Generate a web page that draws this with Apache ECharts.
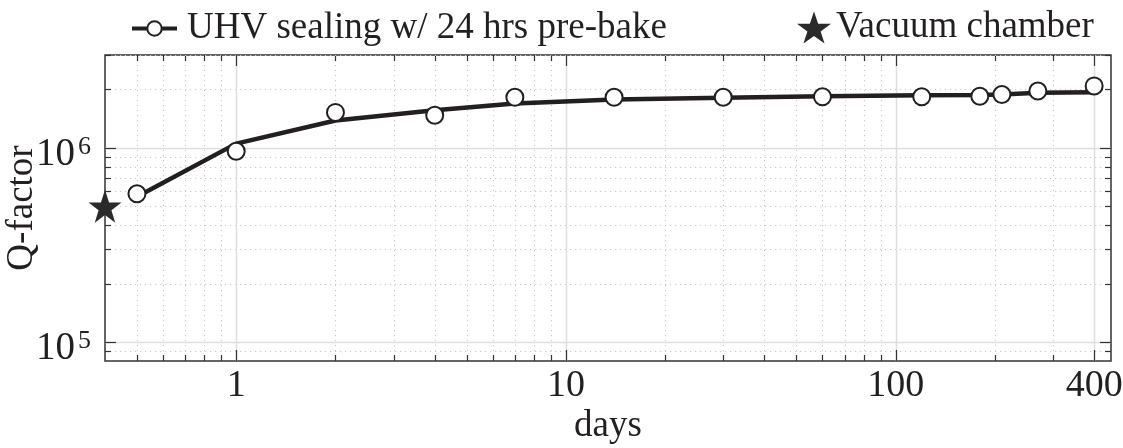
<!DOCTYPE html>
<html>
<head>
<meta charset="utf-8">
<script src="https://cdn.jsdelivr.net/npm/echarts@6/dist/echarts.min.js"></script>
<style>
  html, body { margin: 0; padding: 0; background: #fff; }
  #chart { width: 1123px; height: 448px; }
</style>
</head>
<body>
<div id="chart"></div>
<script>
// Q-factor over time after UHV sealing (log-log)
const days = [0.5, 1, 2, 4, 7, 14, 30, 60, 120, 180, 210, 270, 400];
const qMeasured = [5.8e5, 9.6e5, 1.52e6, 1.47e6, 1.82e6, 1.82e6, 1.82e6, 1.83e6, 1.83e6, 1.84e6, 1.88e6, 1.96e6, 2.08e6];
const qTrend = [5.6e5, 1.05e6, 1.38e6, 1.56e6, 1.69e6, 1.77e6, 1.81e6, 1.84e6, 1.86e6, 1.87e6, 1.88e6, 1.92e6, 1.93e6];
const chamberDay = [0.4];
const chamberQ = [5.0e5];

// tick / grid positions
const xLabelTicks = [1, 10, 100, 400];
const xMajorTicks = [1, 10, 100, 400];
const xMinorTicks = [0.5, 0.6, 0.7, 0.8, 0.9, 2, 3, 4, 5, 6, 7, 8, 9, 20, 30, 40, 50, 60, 70, 80, 90, 200, 300];
const yLabelTicks = [1e5, 1e6];
const yMajorTicks = [1e5, 1e6];
const yMinorTicks = [9e4, 2e5, 3e5, 4e5, 5e5, 6e5, 7e5, 8e5, 9e5, 2e6, 3e6];

const seriesName = 'UHV sealing w/ 24 hrs pre-bake';
const chamberName = 'Vacuum chamber';

const FONT = '"Liberation Serif", "Times New Roman", serif';
const INK = '#231f20';
const STAR = 'path://M50,0 L61.8,35.1 L98.1,35.1 L68.7,56.7 L79.9,91.2 L50,69.8 L20.1,91.2 L31.3,56.7 L1.9,35.1 L38.2,35.1 Z';

function gridAndTicks(params, api) {
  const cs = params.coordSys;
  const left = cs.x, right = cs.x + cs.width, top = cs.y, bottom = cs.y + cs.height;
  const kids = [];
  const majorGrid = { stroke: '#dedede', lineWidth: 1.5 };
  const minorGrid = { stroke: '#c8c8c8', lineWidth: 1, lineDash: [1.2, 3.8] };
  const tickStyle = { stroke: '#333', lineWidth: 1.2 };
  const line = (x1, y1, x2, y2, style) => kids.push({
    type: 'line', shape: { x1, y1, x2, y2 }, style: Object.assign({}, style), silent: true
  });
  const xs = (list, major) => list.forEach(v => {
    const px = Math.round(api.coord([v, 1e6])[0]) + 0.5;
    line(px, top, px, bottom, major ? majorGrid : minorGrid);
    const len = major ? 11 : 6;
    line(px, bottom, px, bottom - len, tickStyle);
    line(px, top, px, top + len, tickStyle);
  });
  const ys = (list, major) => list.forEach(v => {
    const py = Math.round(api.coord([1, v])[1]) + 0.5;
    line(left, py, right, py, major ? majorGrid : minorGrid);
    const len = major ? 11 : 6;
    line(left, py, left + len, py, tickStyle);
    line(right, py, right - len, py, tickStyle);
  });
  xs(xMinorTicks, false);
  ys(yMinorTicks, false);
  xs(xMajorTicks, true);
  ys(yMajorTicks, true);
  return { type: 'group', children: kids };
}

const chart = echarts.init(document.getElementById('chart'), null, { renderer: 'canvas' });

chart.setOption({
  animation: false,
  backgroundColor: '#fff',
  textStyle: { fontFamily: FONT, color: INK },
  grid: {
    left: 105, right: 12, top: 55, bottom: 87,
    containLabel: false, outerBoundsMode: 'none',
    show: true, borderColor: '#333', borderWidth: 1.5, backgroundColor: 'transparent'
  },
  legend: [
    {
      data: [seriesName],
      left: 130, top: 10, padding: 0,
      itemWidth: 45, itemHeight: 18,
      lineStyle: { width: 4 },
      textStyle: { fontFamily: FONT, fontSize: 37, color: INK, padding: [0, 0, 0, 5] }
    },
    {
      data: [chamberName],
      left: 797, top: 9, padding: 0,
      itemWidth: 34, itemHeight: 34,
      textStyle: { fontFamily: FONT, fontSize: 37, color: INK }
    }
  ],
  xAxis: {
    type: 'log', logBase: 10, min: 0.4, max: 450,
    name: 'days', nameLocation: 'middle', nameGap: 47, nameMoveOverlap: false,
    nameTextStyle: { fontFamily: FONT, fontSize: 37, color: INK },
    axisLine: { show: false }, axisTick: { show: false }, splitLine: { show: false },
    axisLabel: {
      customValues: xLabelTicks,
      formatter: v => String(Math.round(v)),
      fontFamily: FONT, fontSize: 38, color: INK, margin: 6
    }
  },
  yAxis: {
    type: 'log', logBase: 10, min: 8e4, max: 3e6,
    name: 'Q-factor', nameLocation: 'middle', nameGap: 64, nameRotate: 90, nameMoveOverlap: false,
    nameTextStyle: { fontFamily: FONT, fontSize: 37, color: INK },
    axisLine: { show: false }, axisTick: { show: false }, splitLine: { show: false },
    axisLabel: {
      customValues: yLabelTicks,
      margin: 14,
      padding: [12, 0, 0, 0],
      formatter: v => '{b|10}{s|' + Math.round(Math.log10(v)) + '}',
      rich: {
        b: { fontFamily: FONT, fontSize: 39, color: INK, lineHeight: 40, verticalAlign: 'bottom' },
        s: { fontFamily: FONT, fontSize: 26, color: INK, lineHeight: 18, verticalAlign: 'top', padding: [0, 0, 0, 3] }
      }
    }
  },
  series: [
    {
      type: 'custom',
      name: 'grid',
      renderItem: gridAndTicks,
      data: [[1, 1e6]],
      silent: true,
      z: 0
    },
    {
      type: 'line',
      name: seriesName,
      data: days.map((d, i) => [d, qTrend[i]]),
      symbol: 'emptyCircle',
      showSymbol: false,
      color: INK,
      lineStyle: { color: INK, width: 4.5 },
      z: 3
    },
    {
      type: 'scatter',
      name: 'measured',
      data: days.map((d, i) => [d, qMeasured[i]]),
      symbol: 'circle',
      symbolSize: 17,
      itemStyle: { color: '#fff', borderColor: INK, borderWidth: 2, opacity: 1 },
      z: 4
    },
    {
      type: 'scatter',
      name: chamberName,
      data: chamberDay.map((d, i) => [d, chamberQ[i]]),
      symbol: STAR,
      symbolSize: 33,
      clip: false,
      itemStyle: { color: '#2a2a2a', opacity: 1 },
      z: 5
    }
  ]
});
</script>
</body>
</html>
